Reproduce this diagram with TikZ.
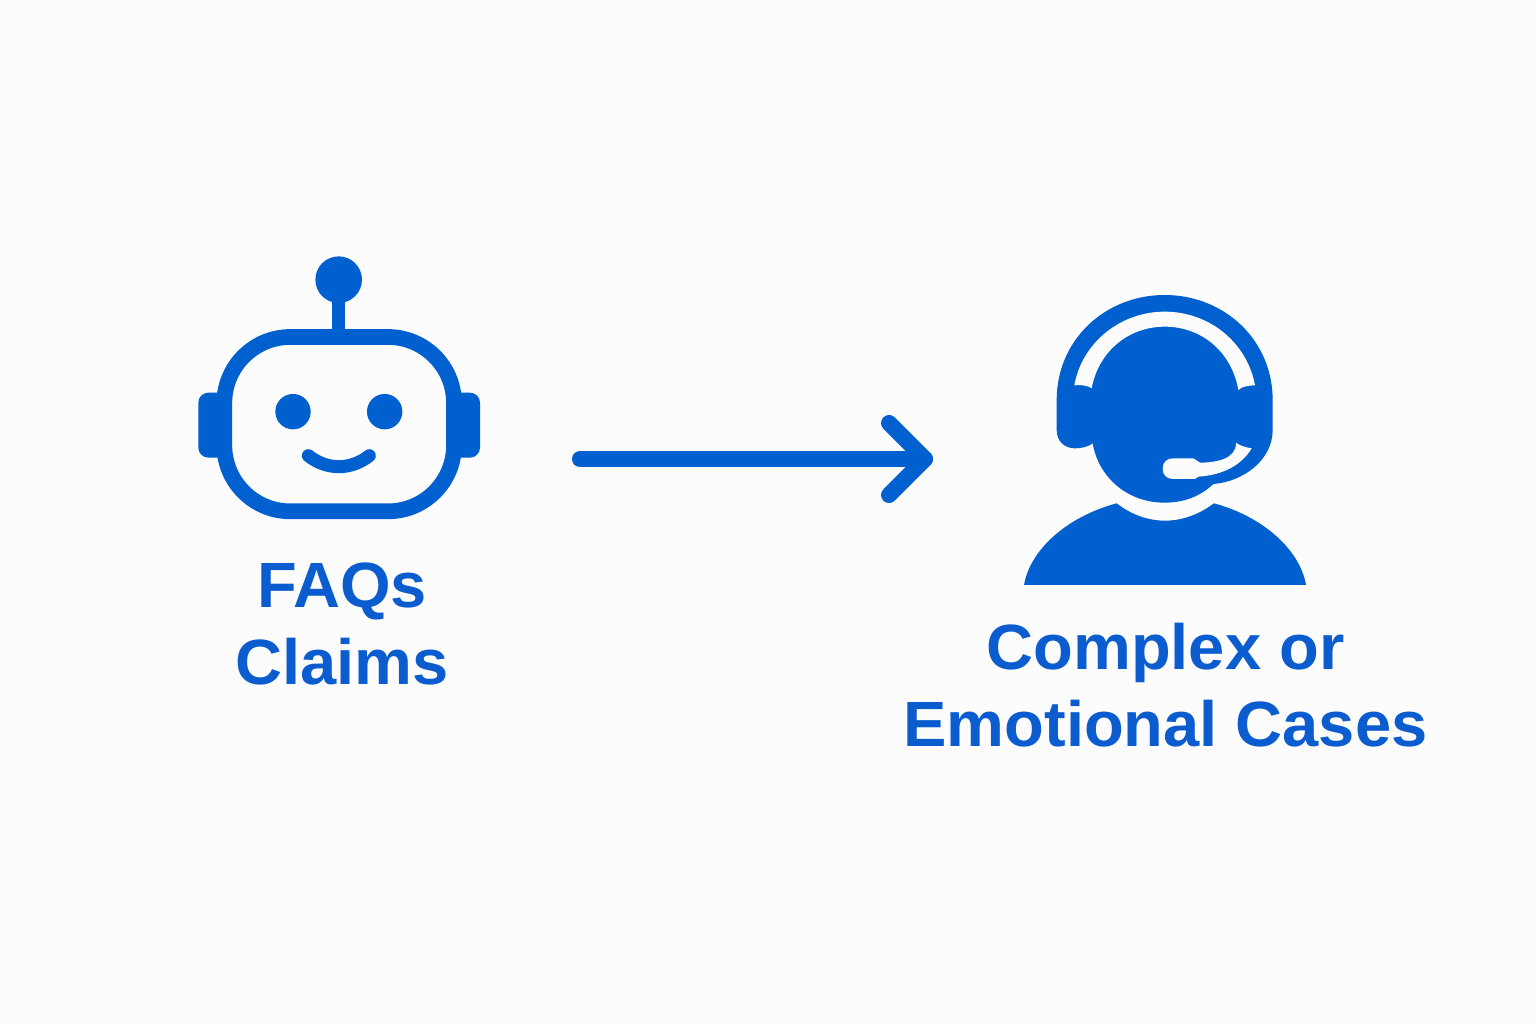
\documentclass[tikz,border=0pt]{standalone}
\usepackage{fontspec}
\setmainfont{Liberation Sans}[BoldFeatures={FakeStretch=1.016}]
\definecolor{iconblue}{HTML}{0060D0}
\definecolor{textblue}{HTML}{0B5CCF}
\definecolor{paper}{HTML}{FCFCFC}
\tikzset{
  label text/.style={text=textblue,font=\fontsize{64}{77.5}\selectfont\bfseries,align=center,inner sep=0pt},
  link/.style={draw=iconblue,line width=16pt,line cap=round,line join=round}
}
\begin{document}
\begin{tikzpicture}[x=1pt,y=-1pt]
\useasboundingbox (0,0) rectangle (1536,1024);
\fill[paper] (0,0) rectangle (1536,1024);
% robot
\begin{scope}[shift={(180,240)},x=0.33333pt,y=-0.33333pt]
\fill[iconblue,rounded corners=10pt] (55,458) rectangle (160,653);
\fill[iconblue,rounded corners=10pt] (795,458) rectangle (900,653);
\fill[iconblue] (456,150) rectangle (496,280);
\fill[iconblue] (476,119) circle[radius=23.3pt];
\filldraw[fill=paper,draw=iconblue,line width=15.7pt,rounded corners=66pt] (133,291) rectangle (822,814);
\fill[iconblue] (339,515) circle[radius=17.7pt];
\fill[iconblue] (614,515) circle[radius=17.7pt];
\draw[iconblue,line width=13pt,line cap=round] (385,647) .. controls (440,691) and (513,691) .. (568,647);
\end{scope}
% agent
\begin{scope}[shift={(1010,280)},x=0.33333pt,y=-0.33333pt]
\fill[iconblue] (140,450) -- (140,360) .. controls (140,180) and (285,45) .. (464,45)
  .. controls (643,45) and (788,180) .. (788,360) -- (788,450)
  .. controls (788,540) and (700,605) .. (610,612)
  .. controls (570,650) and (520,668) .. (464,668)
  .. controls (350,668) and (265,590) .. (248,490)
  .. controls (235,500) and (215,505) .. (195,505)
  .. controls (165,505) and (140,485) .. (140,450) -- cycle;
\fill[paper] (193,316) .. controls (215,190) and (330,95) .. (464,95)
  .. controls (600,95) and (712,190) .. (735,316)
  .. controls (715,316) and (695,320) .. (685,330)
  .. controls (665,215) and (575,140) .. (464,140)
  .. controls (355,140) and (265,215) .. (245,325)
  .. controls (232,316) and (212,314) .. (193,316) -- cycle;
\fill[paper] (678,488) .. controls (685,495) and (705,502) .. (725,505)
  .. controls (695,555) and (640,585) .. (565,590) -- (555,597) -- (490,597)
  .. controls (470,597) and (458,585) .. (458,566)
  .. controls (458,547) and (470,535) .. (490,535) -- (550,535) -- (570,548)
  .. controls (610,548) and (680,540) .. (678,488) -- cycle;
\fill[iconblue] (42,915) .. controls (60,810) and (170,710) .. (320,670)
  .. controls (365,705) and (415,722) .. (465,722)
  .. controls (515,722) and (565,705) .. (612,670)
  .. controls (760,710) and (870,810) .. (888,915) -- cycle;
\end{scope}
% arrow
\coordinate (tail) at (580,459);
\coordinate (tip) at (925,459);
\coordinate (barbA) at (889,423);
\coordinate (barbB) at (889,495);
\draw[link] (tail) -- (tip);
\draw[link] (barbA) -- (tip) -- (barbB);
% labels
\node[label text] (botlabel) at (342,624) {FAQs\\Claims};
\node[label text] (agentlabel) at (1165.5,685) {Complex or\\Emotional Cases};
\end{tikzpicture}
\end{document}
